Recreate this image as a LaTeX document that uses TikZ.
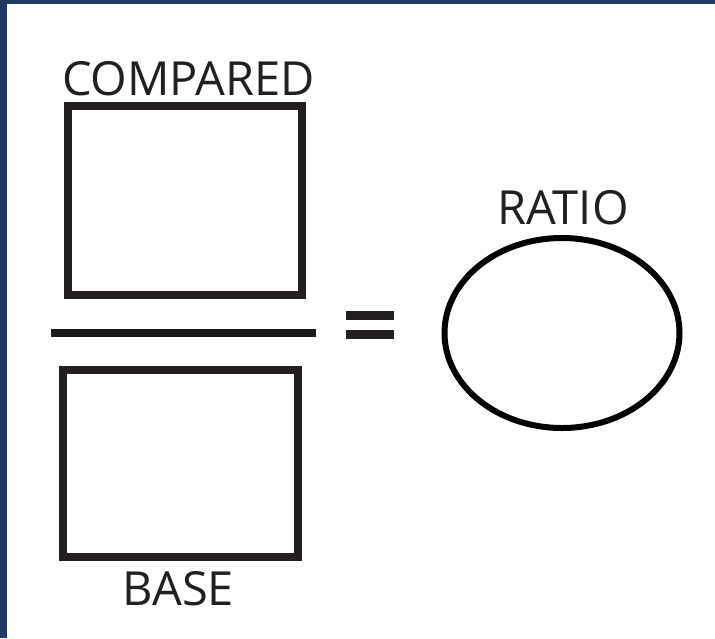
\documentclass[tikz,border=0pt]{standalone}
\usepackage{fontspec}
\setmainfont{Open Sans}
\usetikzlibrary{shapes.geometric}
\definecolor{navy}{HTML}{1F3864}
\definecolor{ink}{HTML}{231F20}
\tikzset{
  frame box/.style={draw=ink, line width=8pt, rectangle, inner sep=0pt, fill=none},
  label text/.style={inner sep=0pt, anchor=base, text=ink, font=\fontsize{47}{47}\selectfont},
  bar/.style={line width=9pt, ink},
}
\begin{document}
\begin{tikzpicture}[x=1pt,y=-1pt]
\useasboundingbox (0,0) rectangle (715,638);
\fill[white] (0,0) rectangle (715,638);
\fill[navy] (0,0) rectangle (7,638);
\fill[navy] (0,0) rectangle (715,4);
% boxes
\node[frame box, minimum width=234pt, minimum height=189pt] (compbox) at (185,200.5) {};
\node[frame box, minimum width=235pt, minimum height=187pt] (basebox) at (180.8,463.3) {};
% fraction line
\coordinate (fl) at (51,332.5);
\coordinate (fr) at (316,332.5);
\draw[line width=8pt, black!90] (fl) -- (fr);
% equals sign
\coordinate (e1l) at (346,315.3);
\coordinate (e1r) at (394,315.3);
\coordinate (e2l) at (346,334.7);
\coordinate (e2r) at (394,334.7);
\draw[bar] (e1l) -- (e1r);
\draw[bar] (e2l) -- (e2r);
% ratio ellipse
\node[ellipse, draw=black, line width=6pt, minimum width=235pt, minimum height=190pt, inner sep=0pt] (ratio) at (562,333) {};
% labels
\node[label text] (lcomp) at (188.5,95) {COMPARED};
\node[label text] (lbase) at (178.5,605) {BASE};
\node[label text] (lratio) at (563,224) {RATIO};
\end{tikzpicture}
\end{document}
